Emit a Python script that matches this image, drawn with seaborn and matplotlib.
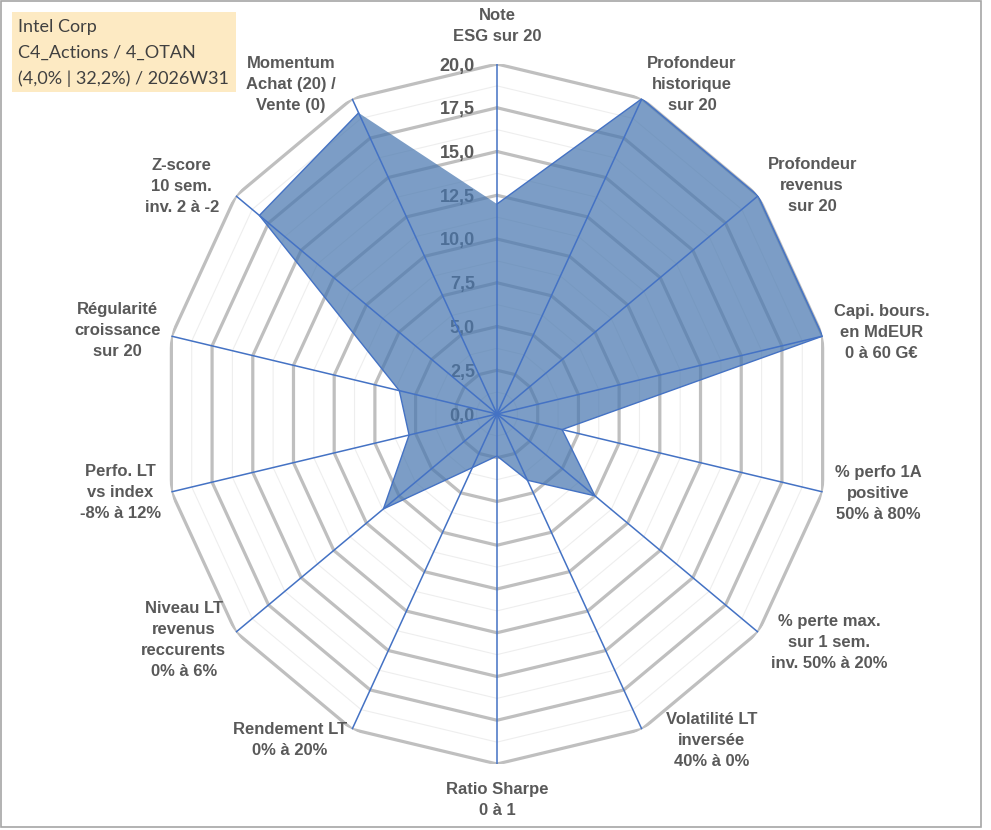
import numpy as np
import seaborn as sns
import matplotlib.pyplot as plt
from matplotlib.patches import Rectangle

# 1 Data
criteria = ["Note\nESG sur 20",
            "Profondeur\nhistorique\nsur 20",
            "Profondeur\nrevenus\nsur 20",
            "Capi. bours.\nen MdEUR\n0 à 60 G€",
            "% perfo 1A\npositive\n50% à 80%",
            "% perte max.\nsur 1 sem.\ninv. 50% à 20%",
            "Volatilité LT\ninversée\n40% à 0%",
            "Ratio Sharpe\n0 à 1",
            "Rendement LT\n0% à 20%",
            "Niveau LT\nrevenus\nreccurents\n0% à 6%",
            "Perfo. LT\nvs index\n-8% à 12%",
            "Régularité\ncroissance\nsur 20",
            "Z-score\n10 sem.\ninv. 2 à -2",
            "Momentum\nAchat (20) /\nVente (0)"]
scores = [12.0, 20.0, 20.0, 20.0, 4.0, 7.5, 4.2, 2.4, 3.4, 8.7, 5.4, 6.0, 18.2, 19.1]
tick_values = [0, 2.5, 5, 7.5, 10, 12.5, 15, 17.5, 20]
tick_labels = ["0,0", "2,5", "5,0", "7,5", "10,0", "12,5", "15,0", "17,5", "20,0"]
box_lines = ["Intel Corp", "C4_Actions / 4_OTAN", "(4,0% | 32,2%) / 2026W31"]

# 2 Layout: label offsets in pixels from the outer vertex (x right, y down)
label_offsets = [(0, -38), (50, -14), (54, -10), (59, -4), (56, 2), (71, 10), (70, 11),
                 (0, 36), (-62, 11), (-52, 8), (-51, 1), (-54, -6), (-54, -9), (-61, -14)]

sns.set_theme(style="white")
plt.rcParams['font.family'] = ['Liberation Sans', 'DejaVu Sans']

W, H = 991, 830
fig = plt.figure(figsize=(W / 100, H / 100), dpi=100)
fig.patch.set_facecolor("white")

# radar area is slightly squashed horizontally like the Excel picture
ax = fig.add_axes([163 / W, 66 / H, 668 / W, 700 / H], projection="polar")
ax.set_aspect("auto")
ax.set_theta_zero_location("N")
ax.set_theta_direction(-1)
ax.set_facecolor("none")
ax.grid(False)
ax.spines["polar"].set_visible(False)

n = len(scores)
theta = np.arange(n) * 2 * np.pi / n
theta_c = np.append(theta, theta[0])
scores_c = np.append(scores, scores[0])

# 3 polygon grid
for lvl in np.arange(1.25, 20.01, 1.25):
    major = abs(lvl / 2.5 - round(lvl / 2.5)) < 1e-9
    ax.plot(theta_c, [lvl] * len(theta_c),
            color="#BFBFBF" if major else "#EEEEEE",
            lw=2.3 if major else 0.8, zorder=1)

# 4 series
ax.fill(theta_c, scores_c, color="#4A78B0", alpha=0.72, lw=0, zorder=3)
sns.lineplot(x=theta_c, y=scores_c, sort=False, ax=ax, color="#4472C4", lw=1, zorder=3.5)

# spokes
for t in theta:
    ax.plot([t, t], [0, 20], color="#4472C4", lw=1.1, zorder=4)

ax.set_xlabel("")
ax.set_ylabel("")
ax.set_xticks([])
ax.set_yticks([])
ax.set_ylim(0, 20)

# 5 radial tick labels along the top spoke
for v, s in zip(tick_values, tick_labels):
    ax.annotate(s, xy=(0, v), xytext=(-22, -2), textcoords="offset pixels",
                ha="right", va="center", fontsize=13, fontweight="bold",
                color="#595959", zorder=2, annotation_clip=False)

# 6 category labels
for t, lab, (dx, dy) in zip(theta, criteria, label_offsets):
    ax.annotate(lab, xy=(t, 20), xytext=(dx, -dy), textcoords="offset pixels",
                ha="center", va="center", multialignment="center", fontsize=12,
                fontweight="bold", color="#595959", linespacing=1.5,
                annotation_clip=False)

# 7 info box and frame
fig.patches.append(Rectangle((12 / W, 1 - 92 / H), 224 / W, 80 / H, transform=fig.transFigure,
                             facecolor="#FDEAC3", edgecolor="none", zorder=0))
for i, s in enumerate(box_lines):
    fig.text(18 / W, 1 - (27 + 26 * i) / H, s, fontsize=13, color="#404040",
             va="center", ha="left", family=["Lato", "DejaVu Sans"])
fig.patches.append(Rectangle((1 / W, 3 / H), 980 / W, 826 / H, transform=fig.transFigure,
                             fill=False, edgecolor="#A6A6A6", lw=1.2))

fig.savefig("out.png", dpi=100)
